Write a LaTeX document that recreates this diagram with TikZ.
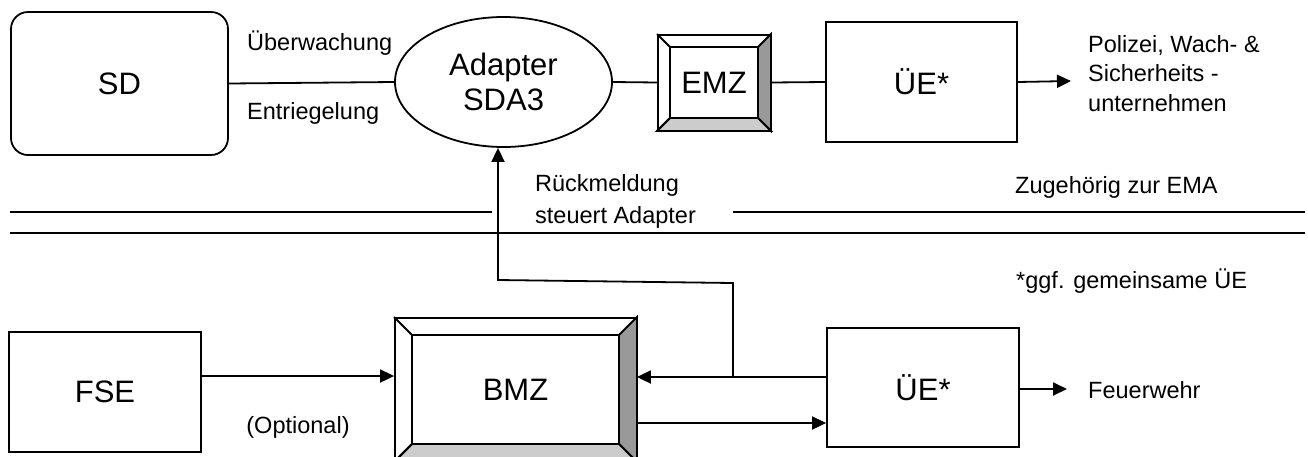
\documentclass[tikz,border=0pt]{standalone}
\usepackage{fontspec}
\setmainfont{Liberation Sans}
\usetikzlibrary{shapes.geometric,arrows.meta}
\definecolor{bevdark}{HTML}{999999}
\definecolor{bevlight}{HTML}{CCCCCC}
\newcommand\bevelbox[2]{%
  \draw[ln,fill=bevdark] (#1.north east) -- (#1.south east) -- ([shift={(-#2,-#2)}]#1.south east) -- ([shift={(-#2,#2)}]#1.north east) -- cycle;
  \draw[ln,fill=bevlight] (#1.south west) -- (#1.south east) -- ([shift={(-#2,-#2)}]#1.south east) -- ([shift={(#2,-#2)}]#1.south west) -- cycle;
  \draw[ln] ([shift={(#2,#2)}]#1.north west) rectangle ([shift={(-#2,-#2)}]#1.south east);
  \draw[ln] (#1.north west) -- ([shift={(#2,#2)}]#1.north west);
  \draw[ln] (#1.south west) -- ([shift={(#2,-#2)}]#1.south west);
}
\begin{document}
\begin{tikzpicture}[x=1pt,y=-1pt,
  ln/.style={line width=1.8pt},
  bigtxt/.style={font=\fontsize{31}{35}\selectfont},
  smalltxt/.style={font=\fontsize{23.5}{29}\selectfont, inner sep=0pt},
  boxnode/.style={draw, ln, inner sep=0pt, bigtxt},
  arr/.style={ln, -{Triangle[length=14pt,width=13pt]}},
]
\useasboundingbox (0,0) rectangle (1308,456);
\clip (0,0) rectangle (1308,456);

% top row
\node[boxnode, rounded corners=17pt, minimum width=217pt, minimum height=143pt] (SD) at (119.5,83.5) {SD};
\node[boxnode, ellipse, minimum width=217pt, minimum height=130pt, align=center] (AD) at (503.5,82) {Adapter\\SDA3};
\node[boxnode, minimum width=112pt, minimum height=95pt] (EMZ) at (714,82.5) {};
\bevelbox{EMZ}{13}
\node[bigtxt] (EMZt) at (EMZ.center) {EMZ};
\node[boxnode, minimum width=191pt, minimum height=120pt] (UE1) at (921.5,82) {ÜE*};

% bottom row
\node[boxnode, minimum width=192pt, minimum height=120pt] (FSE) at (105,392) {FSE};
\node[boxnode, minimum width=241pt, minimum height=143pt] (BMZ) at (515.5,389.5) {};
\bevelbox{BMZ}{18}
\node[bigtxt] (BMZt) at ([yshift=-0.5pt]BMZ.center) {BMZ};
\node[boxnode, minimum width=192pt, minimum height=119pt] (UE2) at (923,387.5) {ÜE*};

% labels
\node[smalltxt, anchor=west] (l1) at (247,43) {Überwachung};
\node[smalltxt, anchor=west] (l2) at (247,113) {Entriegelung};
\node[smalltxt, anchor=west] (l3) at (535,185) {Rückmeldung};
\node[smalltxt, anchor=west] (l4) at (535,217) {steuert Adapter};
\node[smalltxt, anchor=west] (l5) at (1015,187) {Zugehörig zur EMA};
\node[smalltxt, anchor=west] (l6) at (1016,281) {*ggf. gemeinsame ÜE};
\node[smalltxt, anchor=west] (p1) at (1088,45) {Polizei, Wach- \&};
\node[smalltxt, anchor=west] (p2) at (1088,73) {Sicherheits -};
\node[smalltxt, anchor=west] (p3) at (1088,103) {unternehmen};
\node[smalltxt] (opt) at (298,427) {(Optional)};
\node[smalltxt, anchor=west] (fw) at (1088,390) {Feuerwehr};

% coordinates
\coordinate (polend) at (1071,81);
\coordinate (fwend) at (1067,389);
\coordinate (j) at (733,377);
\coordinate (k1) at (733,283);
\coordinate (k2) at (498,280);
\coordinate (s1a) at (10,212);
\coordinate (s1b) at (492,212);
\coordinate (s2a) at (733,212);
\coordinate (s2b) at (1305,212);
\coordinate (s3a) at (10,233);
\coordinate (s3b) at (1305,233);

% connectors
\draw[ln] (SD.east) -- (AD.west);
\draw[ln] (AD.east) -- (EMZ.west);
\draw[ln] (EMZ.east) -- (UE1.west);
\draw[arr] (UE1.east) -- (polend);
\draw[arr] (FSE.east |- 0,376) -- (BMZ.west |- 0,376);
\draw[arr] (UE2.west |- 0,377) -- (BMZ.east |- 0,377);
\draw[arr] (BMZ.east |- 0,423) -- (UE2.west |- 0,423);
\draw[arr] (UE2.east |- 0,389) -- (fwend);
\draw[arr] (j) -- (k1) -- (k2) -- (AD.south -| k2);

% separator lines
\draw[ln] (s1a) -- (s1b);
\draw[ln] (s2a) -- (s2b);
\draw[ln] (s3a) -- (s3b);
\end{tikzpicture}
\end{document}
